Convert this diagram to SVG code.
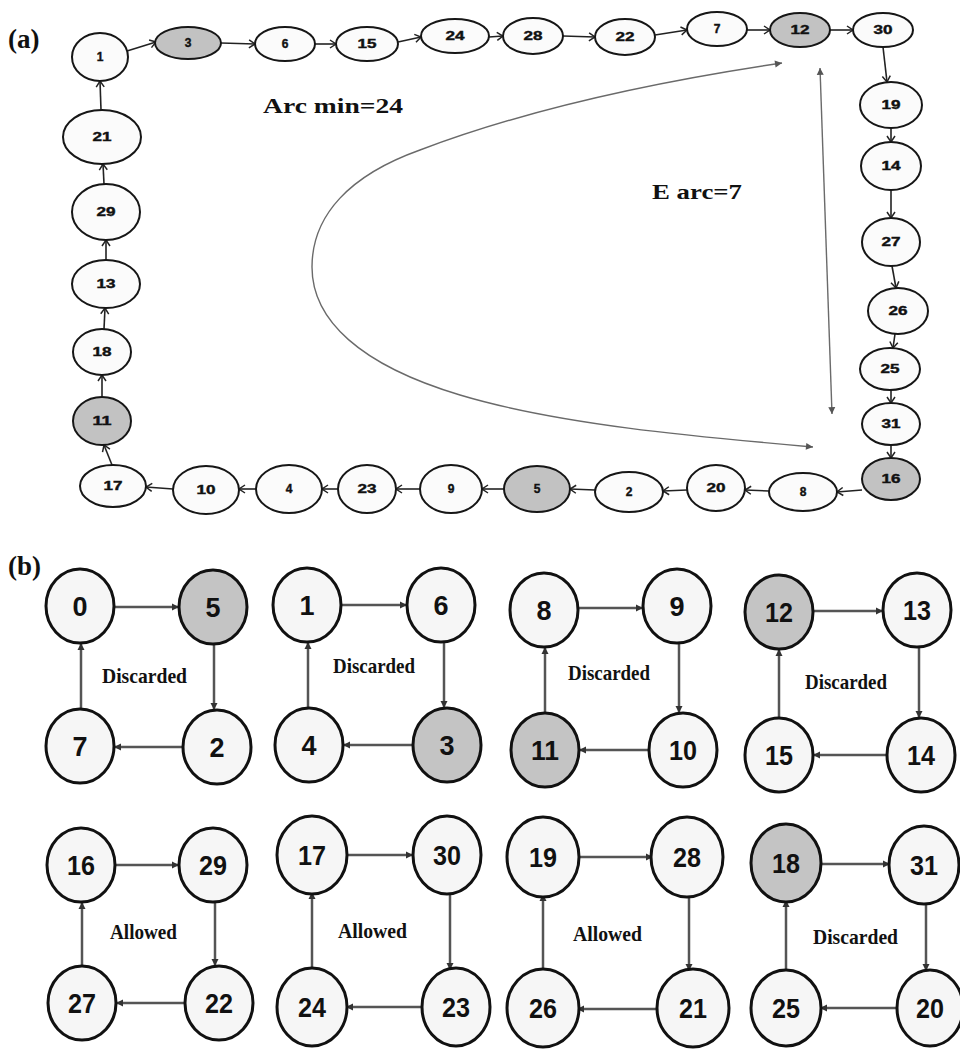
<svg xmlns="http://www.w3.org/2000/svg" width="960" height="1049" viewBox="0 0 960 1049">
<style>
.bg{fill:#ffffff}
.na{fill:#fbfbfb;stroke:#161616;stroke-width:2}
.ga{fill:#c2c2c2;stroke:#161616;stroke-width:2}
.ta{font-family:"Liberation Sans",Arial,sans-serif;font-weight:bold;font-size:12px;fill:#111;text-anchor:middle;stroke:#111;stroke-width:0.4}
.nb{fill:#f6f6f6;stroke:#111;stroke-width:3}
.gb{fill:#c4c4c4;stroke:#111;stroke-width:3}
.tb{font-family:"Liberation Sans",Arial,sans-serif;font-weight:bold;font-size:27px;fill:#111;text-anchor:middle}
.lab{font-family:"Liberation Serif","Times New Roman",serif;font-weight:bold;fill:#111}
.cap{font-family:"Liberation Serif","Times New Roman",serif;font-weight:bold;font-size:22px;fill:#111}
.ea{stroke:#222;stroke-width:1.6;fill:none;marker-end:url(#ma)}
.eb{stroke:#555;stroke-width:2.5;fill:none;marker-end:url(#mb)}
.big{stroke:#6a6a6a;stroke-width:1.4;fill:none}
</style>
<defs>
<marker id="ma" markerUnits="userSpaceOnUse" markerWidth="10" markerHeight="10" refX="8" refY="5" orient="auto">
<path d="M2,1 L8,5 L2,9" fill="none" stroke="#222" stroke-width="1.5"/>
</marker>
<marker id="mb" markerUnits="userSpaceOnUse" markerWidth="10" markerHeight="10" refX="8" refY="5" orient="auto">
<path d="M1,1.5 L8,5 L1,8.5 Z" fill="#333"/>
</marker>
<marker id="mg" markerUnits="userSpaceOnUse" markerWidth="10" markerHeight="10" refX="8" refY="5" orient="auto">
<path d="M1,1.5 L8,5 L1,8.5 Z" fill="#555"/>
</marker>
<marker id="mgs" markerUnits="userSpaceOnUse" markerWidth="10" markerHeight="10" refX="2" refY="5" orient="auto">
<path d="M9,1.5 L2,5 L9,8.5 Z" fill="#555"/>
</marker>
</defs>
<rect class="bg" x="0" y="0" width="960" height="1049"/>

<text class="lab" x="8" y="48" font-size="27">(a)</text>
<text class="lab" x="8" y="575" font-size="27">(b)</text>

<g id="connectors">
<!-- part (a) path -->
<line class="ea" x1="127" y1="51" x2="156" y2="42"/>
<line class="ea" x1="221" y1="43" x2="255" y2="44"/>
<line class="ea" x1="315" y1="44" x2="336" y2="44"/>
<line class="ea" x1="398" y1="42" x2="421" y2="37"/>
<line class="ea" x1="489" y1="37" x2="503" y2="36"/>
<line class="ea" x1="563" y1="36" x2="595" y2="37"/>
<line class="ea" x1="655" y1="35" x2="687" y2="30"/>
<line class="ea" x1="747" y1="30" x2="770" y2="30"/>
<line class="ea" x1="830" y1="30" x2="853" y2="30"/>
<line class="ea" x1="883" y1="47" x2="887" y2="82"/>
<line class="ea" x1="891" y1="128" x2="891" y2="142"/>
<line class="ea" x1="891" y1="190" x2="891" y2="218"/>
<line class="ea" x1="892" y1="266" x2="896" y2="288"/>
<line class="ea" x1="895" y1="334" x2="893" y2="348"/>
<line class="ea" x1="891" y1="390" x2="891" y2="403"/>
<line class="ea" x1="891" y1="445" x2="891" y2="458"/>
<line class="ea" x1="862" y1="490" x2="837" y2="492"/>
<line class="ea" x1="769" y1="491" x2="745" y2="490"/>
<line class="ea" x1="687" y1="490" x2="663" y2="491"/>
<line class="ea" x1="595" y1="490" x2="570" y2="489"/>
<line class="ea" x1="504" y1="489" x2="482" y2="489"/>
<line class="ea" x1="420" y1="489" x2="396" y2="489"/>
<line class="ea" x1="338" y1="489" x2="322" y2="489"/>
<line class="ea" x1="256" y1="489" x2="239" y2="489"/>
<line class="ea" x1="173" y1="489" x2="146" y2="487"/>
<line class="ea" x1="112" y1="465" x2="104" y2="445"/>
<line class="ea" x1="102" y1="397" x2="102" y2="375"/>
<line class="ea" x1="104" y1="329" x2="105" y2="308"/>
<line class="ea" x1="106" y1="260" x2="106" y2="240"/>
<line class="ea" x1="104" y1="184" x2="103" y2="164"/>
<line class="ea" x1="101" y1="110" x2="100" y2="81"/>
<!-- big arc and E arc double arrow -->
<path class="big" d="M813,447 C700,437 560,425 460,395 C360,365 312,320 312,267 C312,215 350,175 420,150 C520,112 640,84 782,63" marker-start="url(#mgs)" marker-end="url(#mg)"/>
<line class="big" x1="820" y1="68" x2="832" y2="414" marker-start="url(#mgs)" marker-end="url(#mg)"/>

<!-- part (b) cycles -->
<line class="eb" x1="114" y1="607" x2="179" y2="607"/>
<line class="eb" x1="214" y1="644" x2="214" y2="710"/>
<line class="eb" x1="183" y1="747" x2="114" y2="747"/>
<line class="eb" x1="81" y1="709" x2="81" y2="643"/>

<line class="eb" x1="341" y1="605" x2="407" y2="605"/>
<line class="eb" x1="444" y1="642" x2="444" y2="708"/>
<line class="eb" x1="413" y1="745" x2="343" y2="745"/>
<line class="eb" x1="308" y1="708" x2="308" y2="642"/>

<line class="eb" x1="578" y1="608" x2="643" y2="608"/>
<line class="eb" x1="679" y1="643" x2="679" y2="713"/>
<line class="eb" x1="649" y1="750" x2="579" y2="750"/>
<line class="eb" x1="545" y1="713" x2="545" y2="647"/>

<line class="eb" x1="813" y1="611" x2="883" y2="611"/>
<line class="eb" x1="919" y1="647" x2="919" y2="718"/>
<line class="eb" x1="887" y1="755" x2="813" y2="755"/>
<line class="eb" x1="779" y1="718" x2="779" y2="649"/>

<line class="eb" x1="115" y1="865" x2="179" y2="865"/>
<line class="eb" x1="215" y1="902" x2="215" y2="966"/>
<line class="eb" x1="185" y1="1003" x2="116" y2="1003"/>
<line class="eb" x1="82" y1="966" x2="82" y2="902"/>

<line class="eb" x1="346" y1="855" x2="413" y2="855"/>
<line class="eb" x1="450" y1="892" x2="450" y2="970"/>
<line class="eb" x1="422" y1="1007" x2="346" y2="1007"/>
<line class="eb" x1="312" y1="970" x2="312" y2="892"/>

<line class="eb" x1="577" y1="857" x2="653" y2="857"/>
<line class="eb" x1="689" y1="894" x2="689" y2="971"/>
<line class="eb" x1="659" y1="1009" x2="577" y2="1009"/>
<line class="eb" x1="543" y1="971" x2="543" y2="894"/>

<line class="eb" x1="820" y1="864" x2="890" y2="864"/>
<line class="eb" x1="926" y1="902" x2="926" y2="971"/>
<line class="eb" x1="896" y1="1008" x2="820" y2="1008"/>
<line class="eb" x1="786" y1="971" x2="786" y2="900"/>
</g>

<text class="cap" x="263" y="113" textLength="140" lengthAdjust="spacingAndGlyphs">Arc min=24</text>
<text class="cap" x="652" y="199" textLength="90" lengthAdjust="spacingAndGlyphs">E arc=7</text>

<!-- part (a) nodes -->
<g id="a1"><ellipse class="na" cx="100" cy="57" rx="28" ry="24"/><text class="ta" x="100" y="61">1</text></g>
<g id="a3"><ellipse class="ga" cx="188" cy="43" rx="33" ry="16"/><text class="ta" x="188" y="47">3</text></g>
<g id="a6"><ellipse class="na" cx="285" cy="44" rx="30" ry="17"/><text class="ta" x="285" y="48">6</text></g>
<g id="a15"><ellipse class="na" cx="367" cy="44" rx="31" ry="17"/><text class="ta" x="367" y="48" textLength="19" lengthAdjust="spacingAndGlyphs">15</text></g>
<g id="a24"><ellipse class="na" cx="455" cy="36" rx="34" ry="17"/><text class="ta" x="455" y="40" textLength="19" lengthAdjust="spacingAndGlyphs">24</text></g>
<g id="a28"><ellipse class="na" cx="533" cy="36" rx="30" ry="18"/><text class="ta" x="533" y="40" textLength="19" lengthAdjust="spacingAndGlyphs">28</text></g>
<g id="a22"><ellipse class="na" cx="625" cy="37" rx="30" ry="18"/><text class="ta" x="625" y="41" textLength="19" lengthAdjust="spacingAndGlyphs">22</text></g>
<g id="a7"><ellipse class="na" cx="717" cy="29" rx="30" ry="17"/><text class="ta" x="717" y="33">7</text></g>
<g id="a12"><ellipse class="ga" cx="800" cy="30" rx="30" ry="17"/><text class="ta" x="800" y="34" textLength="19" lengthAdjust="spacingAndGlyphs">12</text></g>
<g id="a30"><ellipse class="na" cx="883" cy="30" rx="30" ry="17"/><text class="ta" x="883" y="34" textLength="19" lengthAdjust="spacingAndGlyphs">30</text></g>
<g id="a19"><ellipse class="na" cx="891" cy="105" rx="31" ry="23"/><text class="ta" x="891" y="109" textLength="19" lengthAdjust="spacingAndGlyphs">19</text></g>
<g id="a14"><ellipse class="na" cx="891" cy="166" rx="30" ry="24"/><text class="ta" x="891" y="170" textLength="19" lengthAdjust="spacingAndGlyphs">14</text></g>
<g id="a27"><ellipse class="na" cx="891" cy="242" rx="29" ry="24"/><text class="ta" x="891" y="246" textLength="19" lengthAdjust="spacingAndGlyphs">27</text></g>
<g id="a26"><ellipse class="na" cx="898" cy="311" rx="30" ry="23"/><text class="ta" x="898" y="315" textLength="19" lengthAdjust="spacingAndGlyphs">26</text></g>
<g id="a25"><ellipse class="na" cx="890" cy="369" rx="30" ry="21"/><text class="ta" x="890" y="373" textLength="19" lengthAdjust="spacingAndGlyphs">25</text></g>
<g id="a31"><ellipse class="na" cx="891" cy="424" rx="29" ry="21"/><text class="ta" x="891" y="428" textLength="19" lengthAdjust="spacingAndGlyphs">31</text></g>
<g id="a16"><ellipse class="ga" cx="891" cy="479" rx="29" ry="21"/><text class="ta" x="891" y="483" textLength="19" lengthAdjust="spacingAndGlyphs">16</text></g>
<g id="a8"><ellipse class="na" cx="803" cy="492" rx="34" ry="19"/><text class="ta" x="803" y="496">8</text></g>
<g id="a20"><ellipse class="na" cx="716" cy="488" rx="29" ry="23"/><text class="ta" x="716" y="492" textLength="19" lengthAdjust="spacingAndGlyphs">20</text></g>
<g id="a2"><ellipse class="na" cx="629" cy="492" rx="34" ry="20"/><text class="ta" x="629" y="496">2</text></g>
<g id="a5"><ellipse class="ga" cx="537" cy="489" rx="33" ry="23"/><text class="ta" x="537" y="493">5</text></g>
<g id="a9"><ellipse class="na" cx="451" cy="489" rx="31" ry="24"/><text class="ta" x="451" y="493">9</text></g>
<g id="a23"><ellipse class="na" cx="367" cy="489" rx="29" ry="24"/><text class="ta" x="367" y="493" textLength="19" lengthAdjust="spacingAndGlyphs">23</text></g>
<g id="a4"><ellipse class="na" cx="289" cy="489" rx="33" ry="24"/><text class="ta" x="289" y="493">4</text></g>
<g id="a10"><ellipse class="na" cx="206" cy="490" rx="33" ry="24"/><text class="ta" x="206" y="494" textLength="19" lengthAdjust="spacingAndGlyphs">10</text></g>
<g id="a17"><ellipse class="na" cx="113" cy="486" rx="33" ry="21"/><text class="ta" x="113" y="490" textLength="19" lengthAdjust="spacingAndGlyphs">17</text></g>
<g id="a11"><ellipse class="ga" cx="102" cy="421" rx="29" ry="24"/><text class="ta" x="102" y="425" textLength="19" lengthAdjust="spacingAndGlyphs">11</text></g>
<g id="a18"><ellipse class="na" cx="102" cy="352" rx="29" ry="23"/><text class="ta" x="102" y="356" textLength="19" lengthAdjust="spacingAndGlyphs">18</text></g>
<g id="a13"><ellipse class="na" cx="106" cy="284" rx="34" ry="24"/><text class="ta" x="106" y="288" textLength="19" lengthAdjust="spacingAndGlyphs">13</text></g>
<g id="a29"><ellipse class="na" cx="106" cy="212" rx="34" ry="28"/><text class="ta" x="106" y="216" textLength="19" lengthAdjust="spacingAndGlyphs">29</text></g>
<g id="a21"><ellipse class="na" cx="102" cy="137" rx="39" ry="27"/><text class="ta" x="102" y="141" textLength="19" lengthAdjust="spacingAndGlyphs">21</text></g>

<!-- part (b) nodes -->
<g id="b0"><ellipse class="nb" cx="80" cy="606" rx="34" ry="37"/><text class="tb" x="80" y="616">0</text></g>
<g id="b5"><ellipse class="gb" cx="213" cy="607" rx="34" ry="37"/><text class="tb" x="213" y="617">5</text></g>
<g id="b2"><ellipse class="nb" cx="217" cy="747" rx="34" ry="37"/><text class="tb" x="217" y="757">2</text></g>
<g id="b7"><ellipse class="nb" cx="80" cy="746" rx="34" ry="37"/><text class="tb" x="80" y="756">7</text></g>
<text class="lab" x="102" y="683" font-size="22" textLength="85" lengthAdjust="spacingAndGlyphs">Discarded</text>

<g id="b1"><ellipse class="nb" cx="307" cy="605" rx="34" ry="37"/><text class="tb" x="307" y="615">1</text></g>
<g id="b6"><ellipse class="nb" cx="441" cy="605" rx="34" ry="37"/><text class="tb" x="441" y="615">6</text></g>
<g id="b3"><ellipse class="gb" cx="447" cy="745" rx="34" ry="37"/><text class="tb" x="447" y="755">3</text></g>
<g id="b4"><ellipse class="nb" cx="309" cy="745" rx="34" ry="37"/><text class="tb" x="309" y="755">4</text></g>
<text class="lab" x="333" y="673" font-size="22" textLength="82" lengthAdjust="spacingAndGlyphs">Discarded</text>

<g id="b8"><ellipse class="nb" cx="544" cy="610" rx="34" ry="37"/><text class="tb" x="544" y="620">8</text></g>
<g id="b9"><ellipse class="nb" cx="677" cy="606" rx="34" ry="37"/><text class="tb" x="677" y="616">9</text></g>
<g id="b10"><ellipse class="nb" cx="683" cy="750" rx="34" ry="37"/><text class="tb" x="683" y="760" textLength="28" lengthAdjust="spacingAndGlyphs">10</text></g>
<g id="b11"><ellipse class="gb" cx="545" cy="750" rx="34" ry="37"/><text class="tb" x="545" y="760" textLength="28" lengthAdjust="spacingAndGlyphs">11</text></g>
<text class="lab" x="568" y="680" font-size="22" textLength="82" lengthAdjust="spacingAndGlyphs">Discarded</text>

<g id="b12"><ellipse class="gb" cx="779" cy="612" rx="34" ry="37"/><text class="tb" x="779" y="622" textLength="28" lengthAdjust="spacingAndGlyphs">12</text></g>
<g id="b13"><ellipse class="nb" cx="917" cy="610" rx="34" ry="37"/><text class="tb" x="917" y="620" textLength="28" lengthAdjust="spacingAndGlyphs">13</text></g>
<g id="b14"><ellipse class="nb" cx="921" cy="755" rx="34" ry="37"/><text class="tb" x="921" y="765" textLength="28" lengthAdjust="spacingAndGlyphs">14</text></g>
<g id="b15"><ellipse class="nb" cx="779" cy="755" rx="34" ry="37"/><text class="tb" x="779" y="765" textLength="28" lengthAdjust="spacingAndGlyphs">15</text></g>
<text class="lab" x="805" y="689" font-size="22" textLength="82" lengthAdjust="spacingAndGlyphs">Discarded</text>

<g id="b16"><ellipse class="nb" cx="81" cy="865" rx="34" ry="37"/><text class="tb" x="81" y="875" textLength="28" lengthAdjust="spacingAndGlyphs">16</text></g>
<g id="b29"><ellipse class="nb" cx="213" cy="865" rx="34" ry="37"/><text class="tb" x="213" y="875" textLength="28" lengthAdjust="spacingAndGlyphs">29</text></g>
<g id="b22"><ellipse class="nb" cx="219" cy="1003" rx="34" ry="37"/><text class="tb" x="219" y="1013" textLength="28" lengthAdjust="spacingAndGlyphs">22</text></g>
<g id="b27"><ellipse class="nb" cx="82" cy="1003" rx="34" ry="37"/><text class="tb" x="82" y="1013" textLength="28" lengthAdjust="spacingAndGlyphs">27</text></g>
<text class="lab" x="110" y="939" font-size="22" textLength="67" lengthAdjust="spacingAndGlyphs">Allowed</text>

<g id="b17"><ellipse class="nb" cx="312" cy="855" rx="35" ry="39"/><text class="tb" x="312" y="865" textLength="28" lengthAdjust="spacingAndGlyphs">17</text></g>
<g id="b30"><ellipse class="nb" cx="447" cy="855" rx="34" ry="39"/><text class="tb" x="447" y="865" textLength="28" lengthAdjust="spacingAndGlyphs">30</text></g>
<g id="b23"><ellipse class="nb" cx="456" cy="1007" rx="34" ry="39"/><text class="tb" x="456" y="1017" textLength="28" lengthAdjust="spacingAndGlyphs">23</text></g>
<g id="b24"><ellipse class="nb" cx="312" cy="1007" rx="35" ry="39"/><text class="tb" x="312" y="1017" textLength="28" lengthAdjust="spacingAndGlyphs">24</text></g>
<text class="lab" x="338" y="938" font-size="22" textLength="69" lengthAdjust="spacingAndGlyphs">Allowed</text>

<g id="b19"><ellipse class="nb" cx="543" cy="857" rx="36" ry="40"/><text class="tb" x="543" y="867" textLength="28" lengthAdjust="spacingAndGlyphs">19</text></g>
<g id="b28"><ellipse class="nb" cx="687" cy="857" rx="36" ry="40"/><text class="tb" x="687" y="867" textLength="28" lengthAdjust="spacingAndGlyphs">28</text></g>
<g id="b21"><ellipse class="nb" cx="693" cy="1008" rx="36" ry="39"/><text class="tb" x="693" y="1018" textLength="28" lengthAdjust="spacingAndGlyphs">21</text></g>
<g id="b26"><ellipse class="nb" cx="543" cy="1008" rx="36" ry="39"/><text class="tb" x="543" y="1018" textLength="28" lengthAdjust="spacingAndGlyphs">26</text></g>
<text class="lab" x="573" y="941" font-size="22" textLength="69" lengthAdjust="spacingAndGlyphs">Allowed</text>

<g id="b18"><ellipse class="gb" cx="786" cy="863" rx="35" ry="39"/><text class="tb" x="786" y="873" textLength="28" lengthAdjust="spacingAndGlyphs">18</text></g>
<g id="b31"><ellipse class="nb" cx="924" cy="865" rx="35" ry="39"/><text class="tb" x="924" y="875" textLength="28" lengthAdjust="spacingAndGlyphs">31</text></g>
<g id="b20"><ellipse class="nb" cx="930" cy="1008" rx="33" ry="38"/><text class="tb" x="930" y="1018" textLength="28" lengthAdjust="spacingAndGlyphs">20</text></g>
<g id="b25"><ellipse class="nb" cx="786" cy="1008" rx="35" ry="38"/><text class="tb" x="786" y="1018" textLength="28" lengthAdjust="spacingAndGlyphs">25</text></g>
<text class="lab" x="813" y="944" font-size="22" textLength="85" lengthAdjust="spacingAndGlyphs">Discarded</text>
</svg>
